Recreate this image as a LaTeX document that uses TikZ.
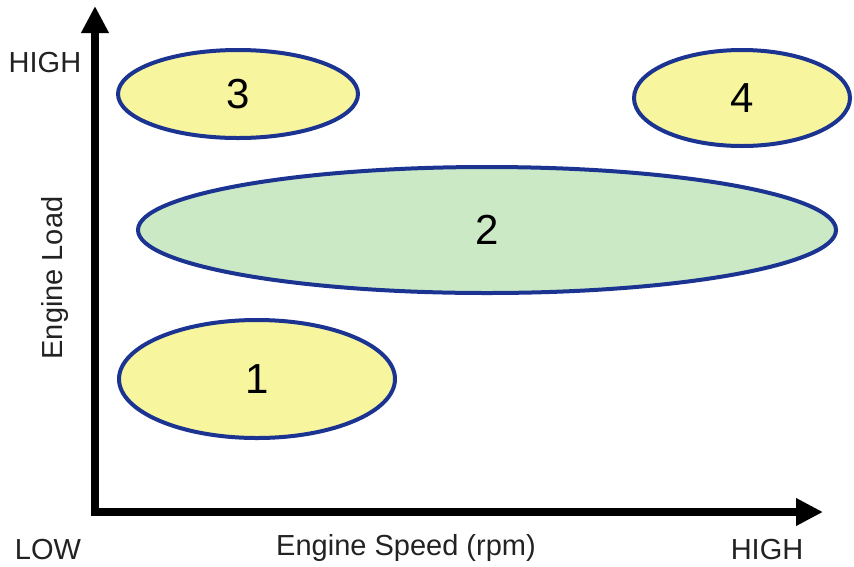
\documentclass[tikz,border=0pt]{standalone}
\usepackage{fontspec}
\setmainfont{Liberation Sans}
\usetikzlibrary{shapes.geometric,arrows.meta}
\definecolor{rimblue}{HTML}{1B3391}
\definecolor{zoneyellow}{HTML}{F7F59E}
\definecolor{zonegreen}{HTML}{CCE9C6}
\definecolor{labelgray}{HTML}{222222}
\tikzset{
  zone/.style={ellipse, draw=rimblue, line width=4pt, inner sep=0pt,
    font=\fontsize{42}{42}\selectfont},
  axislabel/.style={text=labelgray, font=\fontsize{29}{29}\selectfont, inner sep=0pt},
  axis/.style={line width=8pt, {Triangle[length=27pt,width=26pt]}-{Triangle[length=27pt,width=26pt]}}
}
\begin{document}
\begin{tikzpicture}[x=1pt, y=-1pt]
        \useasboundingbox (0,0) rectangle (854,566);

        % axes
        \coordinate (origin) at (95,512);
        \coordinate (ytip) at (95,6);
        \coordinate (xtip) at (823,512);
        \draw[axis] (ytip) -- (origin) -- (xtip);

        % operating zones
        \node (zone3) [zone, fill=zoneyellow, minimum width=240pt, minimum height=88pt] at (238,94) {3};
        \node (zone4) [zone, fill=zoneyellow, minimum width=216pt, minimum height=96pt] at (742,98) {4};
        \node (zone2) [zone, fill=zonegreen, minimum width=698pt, minimum height=126pt] at (487,230) {2};
        \node (zone1) [zone, fill=zoneyellow, minimum width=276pt, minimum height=118pt] at (257,379) {1};

        % labels
        \node (highy) [axislabel] at (45,63) {HIGH};
        \node (low) [axislabel] at (48,550) {LOW};
        \node (highx) [axislabel] at (767,550) {HIGH};
        \node (speed) [axislabel] at (406,548) {Engine Speed (rpm)};
        \node (load) [axislabel, rotate=90] at (55,278) {Engine Load};
\end{tikzpicture}
\end{document}
